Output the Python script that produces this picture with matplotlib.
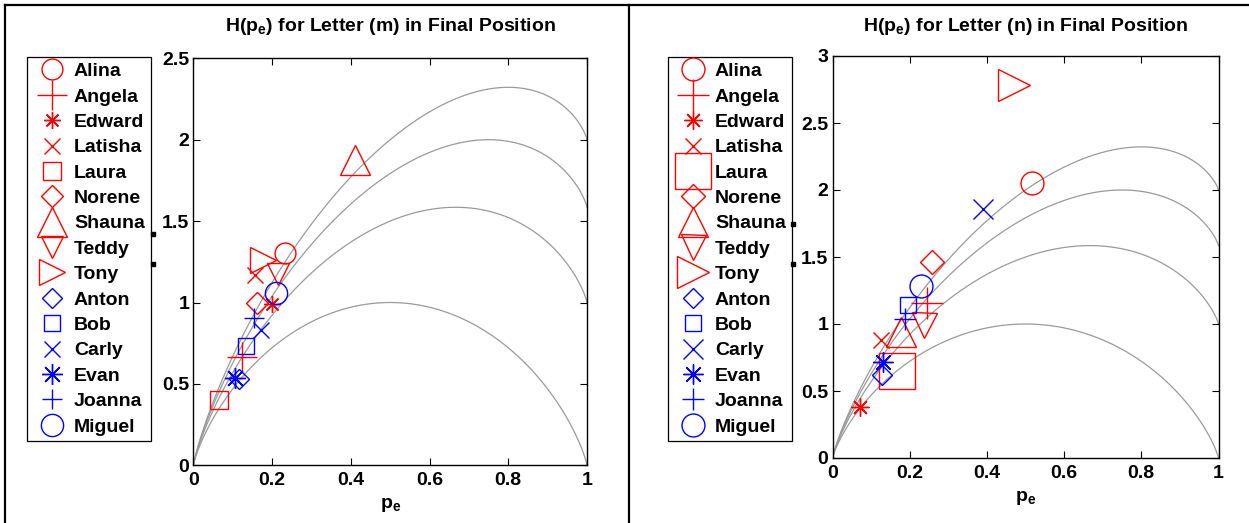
#!/usr/bin/env python3
"""H(p_e) scatter of speakers against Fano-bound curves, letters (m) and (n)."""

import matplotlib

matplotlib.use("Agg")
import matplotlib.pyplot as plt
import numpy as np
from matplotlib.lines import Line2D

W, H = 1249, 523

NAMES = ["Alina", "Angela", "Edward", "Latisha", "Laura", "Norene", "Shauna", "Teddy",
         "Tony", "Anton", "Bob", "Carly", "Evan", "Joanna", "Miguel"]

# letter (m), final position
M_PE = [0.233, 0.124, 0.200, 0.157, 0.065, 0.161, 0.411, 0.214,
        0.177, 0.117, 0.134, 0.172, 0.106, 0.155, 0.209]
M_H = [1.306, 0.663, 0.991, 1.169, 0.401, 0.999, 1.875, 1.175,
       1.26, 0.530, 0.733, 0.831, 0.534, 0.903, 1.060]

# letter (n), final position
N_PE = [0.518, 0.244, 0.071, 0.126, 0.168, 0.259, 0.178, 0.236,
        0.469, 0.127, 0.195, 0.389, 0.132, 0.188, 0.229]
N_H = [2.05, 1.154, 0.378, 0.881, 0.649, 1.46, 0.938, 0.995,
       2.78, 0.619, 1.142, 1.856, 0.719, 1.035, 1.284]

ALPHABET_SIZES = [2, 3, 4, 5]

PE_TICKS = [0, 0.2, 0.4, 0.6, 0.8, 1]
PE_LABELS = ["0", "0.2", "0.4", "0.6", "0.8", "1"]
M_TICKS = [0, 0.5, 1, 1.5, 2, 2.5]
M_LABELS = ["0", "0.5", "1", "1.5", "2", "2.5"]
N_TICKS = [0, 0.5, 1, 1.5, 2, 2.5, 3]
N_LABELS = ["0", "0.5", "1", "1.5", "2", "2.5", "3"]

# styles (matlab-ish markers, sizes in points)
COLORS = ["#ff0000"] * 9 + ["#0000ff"] * 6
ASTER = (8, 2, 0)
MARKERS = ["o", "+", ASTER, "x", "s", "D", "^", "v", ">", "D", "s", "x", ASTER, "+", "o"]
M_SIZES = [15, 21.5, 12, 11, 13, 11.2, 21, 16.5, 19, 10.5, 12, 11, 15, 15, 16]
N_SIZES = [16.5, 23, 13, 11, 26.6, 12.2, 21.6, 18, 22.5, 9.7, 12, 13.7, 14.4, 15.8, 16.5]

plt.rcParams["font.family"] = ["Liberation Sans", "DejaVu Sans"]
plt.rcParams["font.weight"] = "bold"
plt.rcParams["mathtext.fontset"] = "custom"
plt.rcParams["mathtext.rm"] = "Liberation Sans:bold"
plt.rcParams["mathtext.bf"] = "Liberation Sans:bold"
plt.rcParams["mathtext.it"] = "Liberation Sans:bold"


def fano_curve(p, m):
    with np.errstate(divide="ignore", invalid="ignore"):
        h = -p * np.log2(p) - (1 - p) * np.log2(1 - p)
    h = np.nan_to_num(h)
    return h + p * np.log2(m - 1)


def px_rect(x0, y_top, x1, y_bot):
    return [x0 / W, 1 - y_bot / H, (x1 - x0) / W, (y_bot - y_top) / H]


def draw_panel(fig, rect, pe, h, sizes, yticks, ylabels, letter, legend_xy):
    ax = fig.add_axes(rect)
    p = np.linspace(0, 1, 500)
    for m in ALPHABET_SIZES:
        ax.plot(p, fano_curve(p, m), color="#9a9a9a", lw=0.9, zorder=1)

    handles = []
    for i, name in enumerate(NAMES):
        (ln,) = ax.plot([pe[i]], [h[i]], linestyle="none", marker=MARKERS[i],
                        ms=sizes[i], markerfacecolor="none", markeredgecolor=COLORS[i],
                        color=COLORS[i], mew=1.0, label=name, zorder=3, clip_on=False)
        handles.append(ln)

    ax.set_xlim(0, 1)
    ax.set_ylim(yticks[0], yticks[-1])
    ax.set_xticks(PE_TICKS)
    ax.set_xticklabels(PE_LABELS)
    ax.set_yticks(yticks)
    ax.set_yticklabels(ylabels)
    ax.tick_params(direction="in", top=True, right=True, length=5, width=0.8,
                   labelsize=14)
    ax.tick_params(axis="x", pad=5)
    ax.tick_params(axis="y", pad=3)
    for s in ax.spines.values():
        s.set_linewidth(1.0)

    top_px = H * (1 - rect[1] - rect[3])
    ax.set_title(r"H($\mathbf{p_e}$) for Letter (%s) in Final Position" % letter,
                 fontsize=14, fontweight="bold", pad=(top_px - 31) * 0.72)
    ax.set_xlabel(r"$\mathbf{p_e}$", fontsize=14, labelpad=5)

    leg = ax.legend(handles, NAMES, loc="upper left",
                    bbox_to_anchor=(legend_xy[0] / W, 1 - legend_xy[1] / H),
                    bbox_transform=fig.transFigure, borderaxespad=0,
                    fancybox=False, edgecolor="black", framealpha=1, fontsize=14,
                    numpoints=1, handlelength=1.95, handletextpad=0.15,
                    borderpad=0.3, labelspacing=0.40)
    leg.get_frame().set_linewidth(0.9)
    return ax


def main():
    fig = plt.figure(figsize=(W / 100, H / 100), dpi=100)

    draw_panel(fig, px_rect(193.3, 58.3, 587, 465.3), M_PE, M_H, M_SIZES,
               M_TICKS, M_LABELS, "m", (27.3, 56.7))
    draw_panel(fig, px_rect(832.5, 56, 1218.5, 458), N_PE, N_H, N_SIZES,
               N_TICKS, N_LABELS, "n", (668.3, 56.7))

    # panel frames
    for xs, ys in [((5, 5), (5, H + 5)), ((629, 629), (5, H + 5)), ((5, W + 5), (5, 5))]:
        fig.add_artist(Line2D([x / W for x in xs], [1 - y / H for y in ys],
                              transform=fig.transFigure, color="black", lw=1.6))
    # stray dots next to the legend boxes
    for x, y in [(153, 234), (153, 264), (793, 224), (793, 264)]:
        fig.add_artist(Line2D([x / W], [1 - y / H], transform=fig.transFigure,
                              marker="s", ms=2.2, color="black", linestyle="none"))

    fig.savefig("out.png", dpi=100)


if __name__ == "__main__":
    main()
